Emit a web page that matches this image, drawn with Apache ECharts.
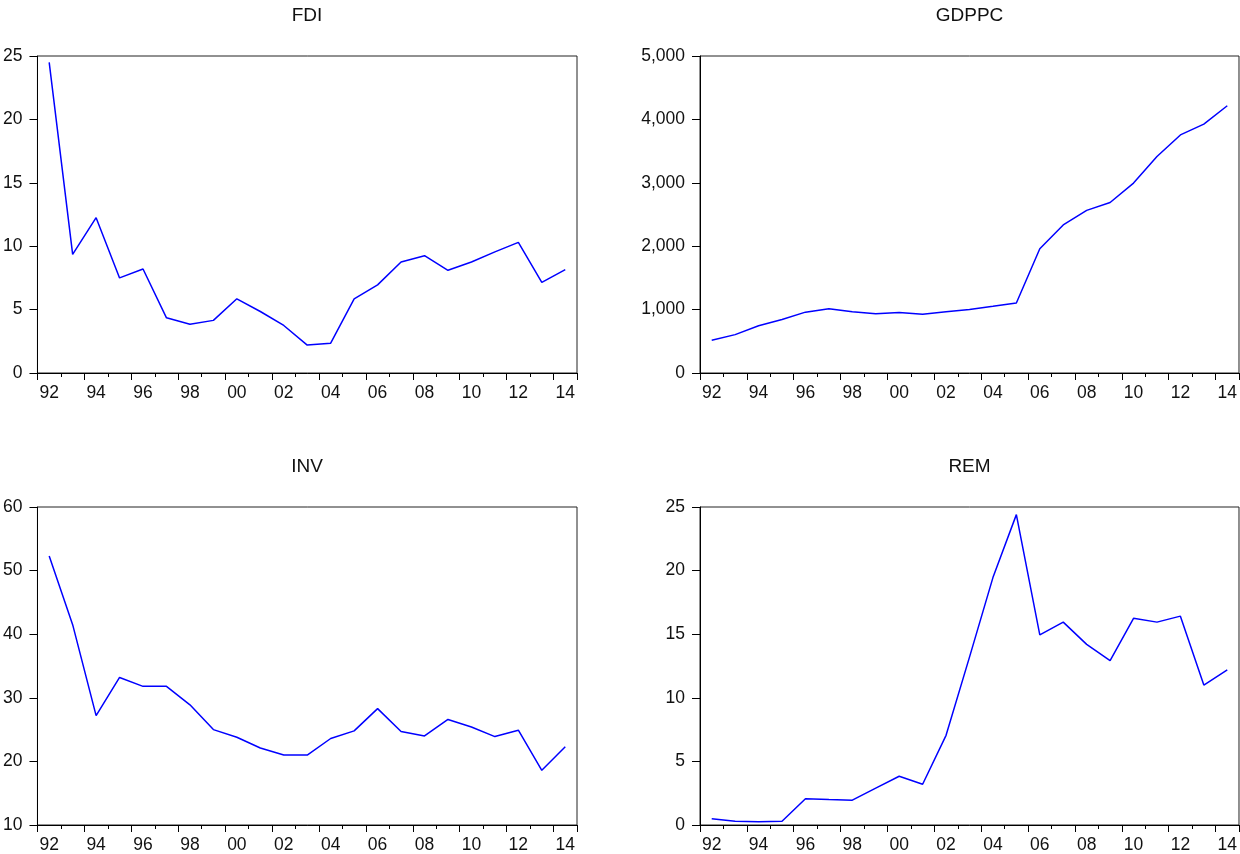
<!DOCTYPE html>
<html>
<head>
<meta charset="utf-8">
<script src="https://cdn.jsdelivr.net/npm/echarts@6/dist/echarts.min.js"></script>
<style>
html,body{margin:0;padding:0;background:#fff;}
#chart{width:1240px;height:854px;}
</style>
</head>
<body>
<div id="chart"></div>
<script>
const years = ['92','93','94','95','96','97','98','99','00','01','02','03','04','05','06','07','08','09','10','11','12','13','14'];
const fdi = [24.5,9.35,12.25,7.5,8.2,4.35,3.85,4.15,5.85,4.85,3.75,2.2,2.35,5.85,6.95,8.75,9.25,8.1,8.75,9.55,10.3,7.15,8.15];
const gdppc = [515,605,745,845,960,1015,965,935,955,925,965,1000,1052,1105,1960,2335,2565,2690,2995,3415,3755,3925,4215];
const inv = [52.3,41.5,27.2,33.2,31.8,31.8,28.9,25.0,23.8,22.1,21.0,21.0,23.6,24.8,28.3,24.7,24.0,26.6,25.4,23.9,24.9,18.6,22.3];
const rem = [0.5,0.3,0.25,0.3,2.07,2.0,1.95,2.9,3.83,3.2,7.05,13.2,19.45,24.4,14.95,15.95,14.2,12.93,16.25,15.95,16.42,11.0,12.2];
const panelTitles = ['FDI','GDPPC','INV','REM'];
const yRanges = [[0,25,5],[0,5000,1000],[10,60,10],[0,25,5]];
const seriesData = [fdi, gdppc, inv, rem];

const grids = [
  {left:37, top:56, width:540, height:317},
  {left:700, top:56, width:539, height:317},
  {left:37, top:507, width:540, height:318},
  {left:700, top:507, width:539, height:318}
];
const font = 'Liberation Sans, Arial, Helvetica, sans-serif';
const txt = '#111';

const option = {
  animation:false,
  backgroundColor:'#fff',
  title: panelTitles.map((t,i)=>({
    text:t,
    left: grids[i].left + grids[i].width/2,
    top: i<2 ? 6 : 457,
    padding:0,
    textAlign:'center',
    textStyle:{fontFamily:font,fontSize:19,fontWeight:'normal',color:txt}
  })),
  grid: grids.map(g=>Object.assign({show:true,borderColor:'#222',borderWidth:1,backgroundColor:'transparent'},g)),
  xAxis: [],
  yAxis: [],
  series: []
};

for (let i=0;i<4;i++){
  option.xAxis.push({
    type:'category', gridIndex:i, data:years, position:'bottom', boundaryGap:true,
    axisLine:{show:true,lineStyle:{color:'#000',width:1}},
    axisTick:{show:true,interval:1,length:7,inside:false,lineStyle:{color:'#000',width:1}},
    axisLabel:{interval:1,margin:11,fontFamily:font,fontSize:17.5,color:txt},
    splitLine:{show:false}
  });
  option.xAxis.push({
    type:'category', gridIndex:i, data:years, position:'bottom', boundaryGap:true, offset:0,
    axisLine:{show:false},
    axisTick:{show:true,interval:0,length:4,lineStyle:{color:'#000',width:1}},
    axisLabel:{show:false},
    splitLine:{show:false}
  });
  const r = yRanges[i];
  option.yAxis.push({
    type:'value', gridIndex:i, min:r[0], max:r[1], interval:r[2],
    axisLine:{show:true,lineStyle:{color:'#000',width:1}},
    axisTick:{show:true,length:8,lineStyle:{color:'#000'}},
    axisLabel:{margin:15,fontFamily:font,fontSize:17.5,color:txt,
      formatter:(v)=>v.toLocaleString('en-US')},
    splitLine:{show:false}
  });
  option.series.push({
    type:'line', xAxisIndex:i*2, yAxisIndex:i, data:seriesData[i],
    symbol:'none', lineStyle:{color:'#0000ff',width:1.5}, itemStyle:{color:'#0000ff'}
  });
}

const chart = echarts.init(document.getElementById('chart'),null,{renderer:'canvas'});
chart.setOption(option);
</script>
</body>
</html>
